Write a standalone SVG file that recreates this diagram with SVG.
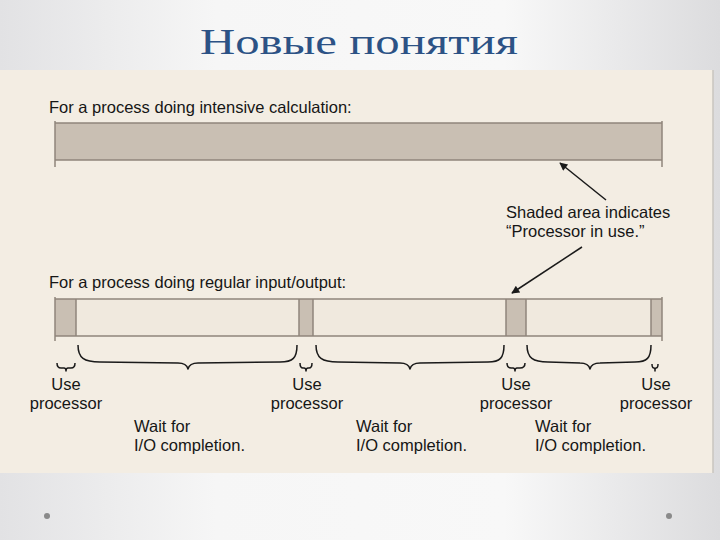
<svg xmlns="http://www.w3.org/2000/svg" width="720" height="540" viewBox="0 0 720 540">
<defs>
  <linearGradient id="bg" x1="0" y1="0" x2="1" y2="0">
    <stop offset="0" stop-color="#e2e2e4"/>
    <stop offset="0.3" stop-color="#f6f6f6"/>
    <stop offset="0.7" stop-color="#f8f8f8"/>
    <stop offset="1" stop-color="#dcdcde"/>
  </linearGradient>
  <marker id="ah" viewBox="0 0 10 10" refX="9" refY="5" markerWidth="10" markerHeight="8" markerUnits="userSpaceOnUse" orient="auto">
    <path d="M0,0 L10,5 L0,10 Z" fill="#1a1a1a"/>
  </marker>
  <style>
    .t{font-family:"Liberation Sans",Arial,sans-serif;font-size:16.5px;fill:#161616}
    .c{text-anchor:middle}
    .bar{fill:#c9bfb3}
    .edge{stroke:#8f857b;stroke-width:1.5;fill:none}
    .brace{stroke:#1a1a1a;stroke-width:1.5;fill:none;stroke-linejoin:round}
    .arrow{stroke:#1a1a1a;stroke-width:1.5;fill:none;marker-end:url(#ah)}
  </style>
</defs>
<rect x="0" y="0" width="720" height="540" fill="url(#bg)"/>
<text x="200" y="54" textLength="318" lengthAdjust="spacingAndGlyphs" font-family="Liberation Serif, serif" font-size="36" fill="#2c5285">Новые понятия</text>
<rect x="0" y="70" width="713" height="403" fill="#f3ede3"/>
<line x1="713" y1="70" x2="713" y2="473" stroke="#c8c4bf" stroke-width="1.5"/>
<circle cx="47" cy="516" r="3" fill="#8a8a8a"/>
<circle cx="669" cy="516" r="3" fill="#8a8a8a"/>

<g id="label-top"><text class="t" x="49" y="113">For a process doing intensive calculation:</text></g>

<g id="bar-cpu">
  <rect class="bar" x="55" y="123" width="607" height="37"/>
  <line class="edge" x1="55" y1="123" x2="662" y2="123"/>
  <line class="edge" x1="55" y1="160" x2="662" y2="160"/>
  <line class="edge" x1="55" y1="121" x2="55" y2="167"/>
  <line class="edge" x1="662" y1="121" x2="662" y2="167"/>
</g>

<g id="note"><text class="t" x="506" y="218">Shaded area indicates</text><text class="t" x="506" y="237">“Processor in use.”</text></g>

<g id="label-io"><text class="t" x="49" y="288">For a process doing regular input/output:</text></g>

<g id="bar-io">
  <rect x="55" y="299" width="607" height="37" fill="#f0e9de"/>
  <rect class="bar" x="55" y="299" width="21" height="37"/>
  <rect class="bar" x="299" y="299" width="14" height="37"/>
  <rect class="bar" x="506" y="299" width="20" height="37"/>
  <rect class="bar" x="651" y="299" width="11" height="37"/>
  <line class="edge" x1="55" y1="299" x2="662" y2="299"/>
  <line class="edge" x1="55" y1="336" x2="662" y2="336"/>
  <line class="edge" x1="55" y1="297" x2="55" y2="341"/>
  <line class="edge" x1="76" y1="299" x2="76" y2="336"/>
  <line class="edge" x1="299" y1="299" x2="299" y2="336"/>
  <line class="edge" x1="313" y1="299" x2="313" y2="336"/>
  <line class="edge" x1="506" y1="299" x2="506" y2="336"/>
  <line class="edge" x1="526" y1="299" x2="526" y2="336"/>
  <line class="edge" x1="651" y1="299" x2="651" y2="336"/>
  <line class="edge" x1="662" y1="297" x2="662" y2="341"/>
</g>

<g id="connectors">
  <line class="arrow" x1="606" y1="200" x2="560" y2="163"/>
  <line class="arrow" x1="582" y1="247" x2="512" y2="293"/>
  <path class="brace" d="M57,363 Q57,368 61,368 L64,368 Q66,368 66,371 Q66,368 68,368 L71,368 Q75,368 75,363"/>
  <path class="brace" d="M78,345 C78,358 84,362 100,362 L178,363 C184,363 187,365 188,369 C189,365 192,363 198,363 L280,362 C293,362 297,358 297,345"/>
  <path class="brace" d="M300,363 Q300,368 303,368 L304,368 Q306,368 306,371 Q306,368 308,368 L309,368 Q312,368 312,363"/>
  <path class="brace" d="M316,345 C316,358 322,362 338,362 L400,363 C406,363 409,365 410,369 C411,365 414,363 420,363 L488,362 C500,362 504,358 504,345"/>
  <path class="brace" d="M507,363 Q507,368 511,368 L513,368 Q515,368 515,371 Q515,368 517,368 L520,368 Q525,368 525,363"/>
  <path class="brace" d="M527,345 C527,358 533,362 548,362 L580,363 C586,363 589,365 590,369 C591,365 594,363 600,363 L635,362 C647,362 651,358 651,345"/>
  <path class="brace" d="M652,364 Q652,368 654,368 Q655,368 655,371 Q655,368 656,368 Q658,368 658,364"/>
</g>

<g id="use1"><text class="t c" x="66" y="390">Use</text><text class="t c" x="66" y="409">processor</text></g>
<g id="use2"><text class="t c" x="307" y="390">Use</text><text class="t c" x="307" y="409">processor</text></g>
<g id="use3"><text class="t c" x="516" y="390">Use</text><text class="t c" x="516" y="409">processor</text></g>
<g id="use4"><text class="t c" x="656" y="390">Use</text><text class="t c" x="656" y="409">processor</text></g>

<g id="wait1"><text class="t" x="134" y="432">Wait for</text><text class="t" x="134" y="451">I/O completion.</text></g>
<g id="wait2"><text class="t" x="356" y="432">Wait for</text><text class="t" x="356" y="451">I/O completion.</text></g>
<g id="wait3"><text class="t" x="535" y="432">Wait for</text><text class="t" x="535" y="451">I/O completion.</text></g>
</svg>
